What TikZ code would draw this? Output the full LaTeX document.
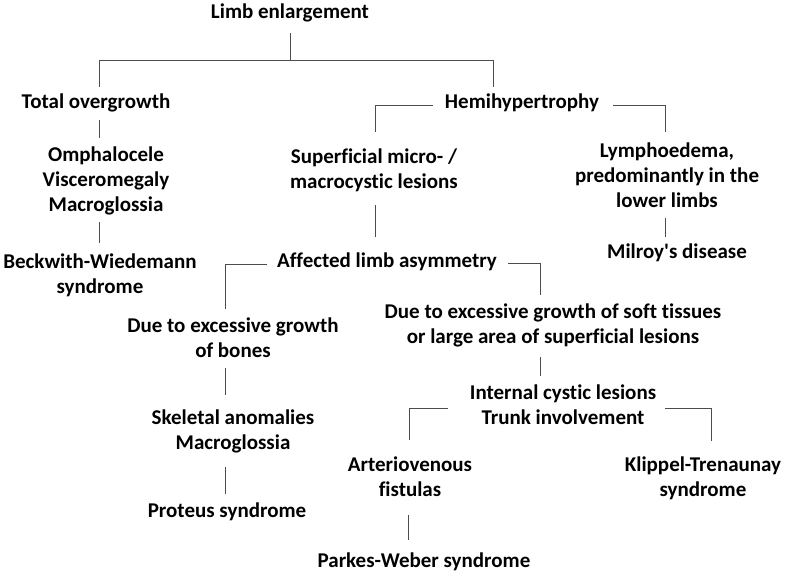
\documentclass[tikz,border=0pt]{standalone}
\usepackage{fontspec}
\setmainfont{Carlito}[Ligatures={NoCommon}]
\usetikzlibrary{calc}

\begin{document}
\begin{tikzpicture}[x=1pt, y=-1pt,
    txt/.style={align=center, inner sep=0pt, font=\fontsize{21}{25}\selectfont\bfseries},
    link/.style={draw=black!70, line width=0.9pt}]
    \useasboundingbox (0,0) rectangle (788,576);

    \node[txt] (limb) at (290,13) {Limb enlargement};
    \node[txt] (total) at (96,103) {Total overgrowth};
    \node[txt] (omph) at (106,181) {Omphalocele\\Visceromegaly\\Macroglossia};
    \node[txt] (beck) at (100,275) {Beckwith-Wiedemann\\syndrome};
    \node[txt] (hemi) at (522,103) {Hemihypertrophy};
    \node[txt] (super) at (374,170) {Superficial micro- /\\macrocystic lesions};
    \node[txt] (lymph) at (667,175) {Lymphoedema,\\predominantly in the\\lower limbs};
    \node[txt] (milroy) at (677,253) {Milroy\textquotesingle s disease};
    \node[txt] (affected) at (387,262) {Affected limb asymmetry};
    \node[txt] (bones) at (233,338) {Due to excessive growth\\of bones};
    \node[txt] (soft) at (553,325) {Due to excessive growth of soft tissues\\or large area of superficial lesions};
    \node[txt] (skeletal) at (233,431) {Skeletal anomalies\\Macroglossia};
    \node[txt] (proteus) at (227,512) {Proteus syndrome};
    \node[txt] (internal) at (563,405) {Internal cystic lesions\\Trunk involvement};
    \node[txt] (arterio) at (410,477) {Arteriovenous\\fistulas};
    \node[txt] (klippel) at (703,478) {Klippel-Trenaunay\\syndrome};
    \node[txt] (parkes) at (424,562) {Parkes-Weber syndrome};

    \draw[link] ($(limb)+(0,20)$) -- ($(limb)+(0,47)$);
    \draw[link] ($(total)+(3,-16)$) -- ($(total)+(3,-43)$) -- ($(hemi)+(-29,-43)$) -- ($(hemi)+(-29,-16)$);
    \draw[link] ($(total)+(3,17)$) -- ($(omph)+(-7,-43)$);
    \draw[link] ($(omph)+(-7,41)$) -- ($(beck)+(-1,-32)$);
    \draw[link] ($(hemi)+(-89,2)$) -| ($(super)+(1,-38)$);
    \draw[link] ($(hemi)+(91,2)$) -| ($(lymph)+(-2,-43)$);
    \draw[link] ($(super)+(1,35)$) -- ($(affected)+(-12,-25)$);
    \draw[link] ($(lymph)+(-2,43)$) -- ($(milroy)+(-12,-16)$);
    \draw[link] ($(affected)+(-120,2)$) -| ($(bones)+(-8,-29)$);
    \draw[link] ($(affected)+(121,1)$) -| ($(soft)+(-13,-30)$);
    \draw[link] ($(bones)+(-8,30)$) -- ($(skeletal)+(-8,-36)$);
    \draw[link] ($(skeletal)+(-8,36)$) -- ($(proteus)+(-2,-18)$);
    \draw[link] ($(soft)+(-13,32)$) -- ($(internal)+(-23,-29)$);
    \draw[link] ($(internal)+(-115,3)$) -| ($(arterio)+(-1,-37)$);
    \draw[link] ($(internal)+(102,3)$) -| ($(klippel)+(8,-37)$);
    \draw[link] ($(arterio)+(-2,38)$) -- ($(parkes)+(-16,-22)$);
\end{tikzpicture}
\end{document}
